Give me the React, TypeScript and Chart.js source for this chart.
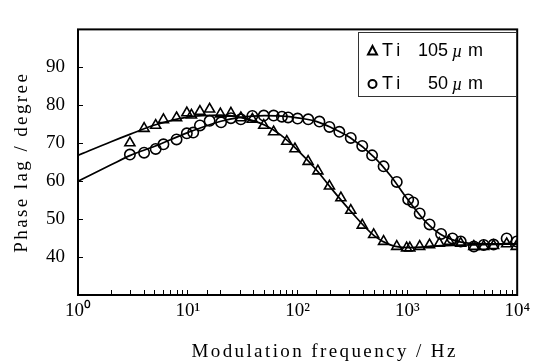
import React, { useEffect, useRef } from 'react';
import { Chart, registerables } from 'chart.js';

Chart.register(...registerables);

// Measured points, Ti 105 µm (triangles)
const ti105Freq = [2.97, 4.0, 5.1, 6.0, 7.9, 9.8, 10.8, 12.9, 15.8, 19.8, 24.7, 30.4, 38.7, 49.2, 60.5, 79.7, 94.6, 124.7, 153, 195, 248, 305, 388, 493, 607, 800, 984, 1052, 1294, 1592, 1955, 2404, 3060, 4030, 4955, 6095, 8020, 9800];
const ti105Phase = [70.1, 73.9, 74.7, 76.2, 76.7, 78.0, 77.4, 78.4, 79.0, 77.7, 77.9, 76.7, 76.3, 74.7, 73.0, 70.5, 68.5, 65.2, 62.7, 58.7, 55.6, 52.3, 48.4, 45.9, 44.1, 42.8, 42.4, 42.4, 42.8, 43.2, 43.6, 44.1, 43.6, 42.8, 42.8, 43.0, 43.5, 42.8];

// Measured points, Ti 50 µm (circles)
const ti50Freq = [2.97, 4.0, 5.1, 6.0, 7.9, 9.8, 11.2, 12.9, 15.8, 20.1, 24.7, 30.4, 38.7, 49.2, 60.5, 72, 82, 100, 125, 158, 195, 240, 305, 388, 477, 607, 800, 1017, 1128, 1294, 1592, 2027, 2575, 3060, 4030, 4955, 6095, 8020, 9900];
const ti50Phase = [67.0, 67.5, 68.5, 69.7, 71.0, 72.6, 72.8, 74.7, 75.9, 75.5, 76.6, 76.3, 77.2, 77.3, 77.3, 77.0, 76.8, 76.5, 76.3, 75.7, 74.3, 73.0, 71.4, 69.3, 66.8, 63.9, 59.8, 55.2, 54.4, 51.5, 48.6, 46.1, 44.9, 44.1, 42.8, 43.2, 43.3, 44.9, 44.1];

// Fitted curves
const fit105Freq = [1, 2, 3, 5, 10, 20, 30, 50, 70, 100, 150, 200, 300, 500, 700, 1000, 2000, 5000, 10000];
const fit105Phase = [66.8, 70.4, 72.4, 74.8, 76.9, 77.4, 76.8, 74.8, 72.2, 68.2, 62.8, 58.3, 52.3, 45.6, 43.2, 42.5, 43.0, 43.3, 43.5];
const fit50Freq = [1, 2, 3, 5, 10, 20, 30, 50, 80, 100, 150, 200, 300, 500, 700, 1000, 1500, 2000, 3000, 5000, 10000];
const fit50Phase = [60.0, 64.3, 66.8, 69.2, 72.8, 75.8, 76.8, 77.3, 77.1, 76.7, 75.7, 74.2, 71.5, 66.3, 61.5, 55.3, 49.0, 46.0, 44.0, 43.5, 43.5];

const seriesMaterial = ['Ti', 'Ti'];
const seriesThickness = ['105', '50'];
const seriesUnitPrefix = 'µ';
const seriesUnit = 'm';
const seriesMarkers = ['triangle', 'circle'];

const xTickExponents = [0, 1, 2, 3, 4];
const yTickValues = [40, 50, 60, 70, 80, 90];
const xTitle = 'Modulation frequency / Hz';
const yTitle = 'Phase lag / degree';

const SUP = ['⁰', '¹', '²', '³', '⁴', '⁵', '⁶', '⁷', '⁸', '⁹'];

function zip(xs: number[], ys: number[]) {
  return xs.map((x, i) => ({ x, y: ys[i] }));
}

const decorPlugin = {
  id: 'decor',
  afterDraw(chart: any) {
    const { ctx, chartArea: a } = chart;
    ctx.save();
    ctx.strokeStyle = '#000';
    ctx.lineWidth = 2;
    ctx.strokeRect(a.left, a.top, a.right - a.left, a.bottom - a.top);

    // axis titles
    ctx.fillStyle = '#000';
    ctx.font = '19px "Liberation Serif"';
    ctx.letterSpacing = '2.4px';
    ctx.textAlign = 'center';
    ctx.textBaseline = 'alphabetic';
    ctx.fillText(xTitle, (a.left + a.right) / 2 + 27, 357);
    ctx.save();
    ctx.translate(27, (a.top + a.bottom) / 2);
    ctx.rotate(-Math.PI / 2);
    ctx.fillText(yTitle, 0, 0);
    ctx.restore();
    ctx.restore();

    // legend
    ctx.save();
    const bx = 358.5, by = 32.5, bw = 158, bh = 64;
    ctx.fillStyle = '#fff';
    ctx.fillRect(bx, by, bw, bh);
    ctx.strokeStyle = '#333';
    ctx.lineWidth = 1;
    ctx.strokeRect(bx, by, bw, bh);
    const rows = [51, 84];
    rows.forEach((ry, i) => {
      ctx.strokeStyle = '#000';
      ctx.lineWidth = 2;
      ctx.beginPath();
      if (seriesMarkers[i] === 'triangle') {
        ctx.moveTo(372.5, ry - 5);
        ctx.lineTo(377, ry + 3.5);
        ctx.lineTo(368, ry + 3.5);
        ctx.closePath();
      } else {
        ctx.arc(372.5, ry, 4, 0, Math.PI * 2);
      }
      ctx.stroke();
      ctx.fillStyle = '#000';
      ctx.textBaseline = 'middle';
      ctx.font = '18px "Liberation Sans"';
      ctx.letterSpacing = '4px';
      ctx.textAlign = 'left';
      ctx.fillText(seriesMaterial[i], 382, ry);
      ctx.letterSpacing = '0px';
      ctx.textAlign = 'right';
      ctx.fillText(seriesThickness[i], 448, ry);
      ctx.textAlign = 'left';
      ctx.font = 'italic 18px "Liberation Serif"';
      ctx.fillText(seriesUnitPrefix, 452, ry + 1);
      ctx.font = '18px "Liberation Sans"';
      ctx.fillText(seriesUnit, 468, ry);
    });
    ctx.restore();
  },
};

export default function App() {
  const ref = useRef<HTMLCanvasElement | null>(null);

  useEffect(() => {
    if (!ref.current) return;
    const markerCommon = {
      showLine: false,
      pointBorderColor: '#000',
      pointBackgroundColor: 'rgba(0,0,0,0)',
      pointBorderWidth: 1.6,
    };
    const lineCommon = {
      showLine: true,
      pointRadius: 0,
      borderColor: '#000',
      borderWidth: 1.7,
      cubicInterpolationMode: 'monotone' as const,
      fill: false,
    };
    const chart = new Chart(ref.current, {
      type: 'scatter',
      data: {
        datasets: [
          { label: 'fit 105', data: zip(fit105Freq, fit105Phase), ...lineCommon },
          { label: 'fit 50', data: zip(fit50Freq, fit50Phase), ...lineCommon },
          {
            label: `${seriesMaterial[0]} ${seriesThickness[0]}${seriesUnitPrefix}${seriesUnit}`,
            data: zip(ti105Freq, ti105Phase),
            pointStyle: 'triangle',
            pointRadius: 5.8,
            ...markerCommon,
          },
          {
            label: `${seriesMaterial[1]} ${seriesThickness[1]}${seriesUnitPrefix}${seriesUnit}`,
            data: zip(ti50Freq, ti50Phase),
            pointStyle: 'circle',
            pointRadius: 5.2,
            ...markerCommon,
          },
        ],
      },
      options: {
        responsive: true,
        maintainAspectRatio: false,
        animation: false,
        layout: { padding: { top: 13, right: 16, left: 0, bottom: 0 } },
        plugins: { legend: { display: false }, tooltip: { enabled: false } },
        scales: {
          x: {
            type: 'logarithmic',
            min: 1,
            max: 10000,
            afterFit: (s: any) => { s.height = 69; },
            border: { display: false },
            grid: { drawOnChartArea: false, drawTicks: true, tickLength: -5, color: '#000', lineWidth: 1 },
            ticks: {
              autoSkip: false,
              maxRotation: 0,
              padding: 10,
              color: '#000',
              font: { family: '"Liberation Serif"', size: 19 },
              callback: (v: any) => {
                const l = Math.log10(Number(v));
                const e = Math.round(l);
                if (Math.abs(l - e) < 1e-9 && xTickExponents.includes(e)) return '10' + SUP[e];
                return '';
              },
            },
          },
          y: {
            min: 30,
            max: 100,
            afterFit: (s: any) => { s.width = 78; },
            border: { display: false },
            grid: { drawOnChartArea: false, drawTicks: true, tickLength: -5, color: '#000', lineWidth: 1 },
            ticks: {
              stepSize: 10,
              padding: 18,
              color: '#000',
              font: { family: '"Liberation Serif"', size: 19 },
              callback: (v: any) => (yTickValues.includes(Number(v)) ? String(v) : ''),
            },
          },
        },
      },
      plugins: [decorPlugin],
    });
    return () => chart.destroy();
  }, []);

  return (
    <div style={{ position: 'fixed', left: 0, top: 0, width: 540, height: 364, background: '#fff' }}>
      <canvas ref={ref} />
    </div>
  );
}
